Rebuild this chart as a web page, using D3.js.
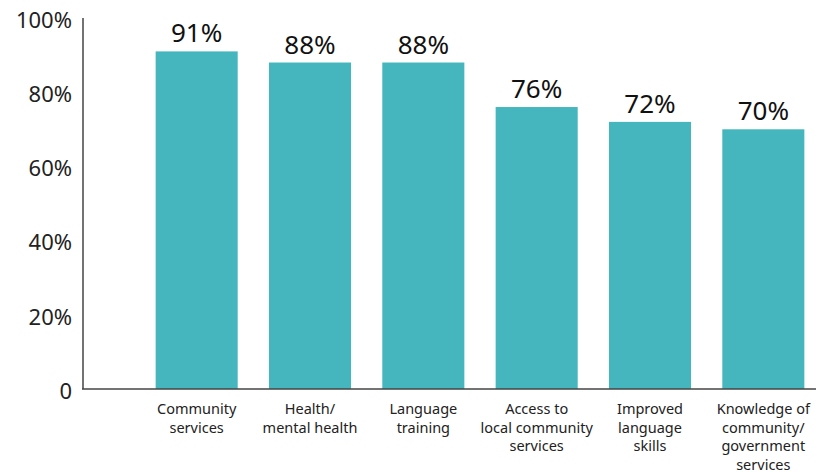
<!DOCTYPE html>
<html>
<head>
<meta charset="utf-8">
<script src="https://cdn.jsdelivr.net/npm/d3@7"></script>
<style>
    body { margin: 0; background: #fff; }
    text { font-family: "Noto Sans", "Open Sans", sans-serif; }
</style>
</head>
<body>
<svg id="chart" width="819" height="472"></svg>
<script>
var categories = [
    ["Community", "services"],
    ["Health/", "mental health"],
    ["Language", "training"],
    ["Access to", "local community", "services"],
    ["Improved", "language", "skills"],
    ["Knowledge of", "community/", "government", "services"]
];
var values = [91, 88, 88, 76, 72, 70];
var yTicks = [0, 20, 40, 60, 80, 100];

var svg = d3.select("#chart");

var x = d3.scaleBand()
    .domain(d3.range(categories.length))
    .range([140, 820])
    .paddingInner(0.276)
    .paddingOuter(0.138);

var y = d3.scaleLinear()
    .domain([0, 100])
    .range([389, 18]);

// bars
svg.selectAll("rect.bar").data(values)
    .enter().append("rect")
    .attr("class", "bar")
    .attr("x", function (d, i) { return x(i); })
    .attr("y", function (d) { return y(d); })
    .attr("width", x.bandwidth())
    .attr("height", function (d) { return y(0) - y(d); })
    .attr("fill", "#45b6bd");

// value labels
svg.selectAll("text.val").data(values)
    .enter().append("text")
    .attr("class", "val")
    .attr("x", function (d, i) { return x(i) + x.bandwidth() / 2; })
    .attr("y", function (d) { return y(d) - 9; })
    .attr("text-anchor", "middle")
    .attr("font-size", 26)
    .attr("fill", "#111")
    .text(function (d) { return d + "%"; });

// axes lines
svg.append("line")
    .attr("x1", 83).attr("x2", 83)
    .attr("y1", y(100)).attr("y2", y(0))
    .attr("stroke", "#444").attr("stroke-width", 1.5);
svg.append("line")
    .attr("x1", 82).attr("x2", 816)
    .attr("y1", y(0)).attr("y2", y(0))
    .attr("stroke", "#444").attr("stroke-width", 1.5);

// y tick labels
svg.selectAll("text.ytick").data(yTicks)
    .enter().append("text")
    .attr("class", "ytick")
    .attr("x", 72)
    .attr("y", function (d) { return y(d) + 4; })
    .attr("dominant-baseline", "middle")
    .attr("text-anchor", "end")
    .attr("font-size", 22)
    .attr("fill", "#222")
    .text(function (d) { return d === 0 ? "0" : d + "%"; });

// x category labels
var xl = svg.selectAll("text.xlab").data(categories)
    .enter().append("text")
    .attr("class", "xlab")
    .attr("text-anchor", "middle")
    .attr("font-size", 14.5)
    .attr("fill", "#222");
xl.selectAll("tspan").data(function (d, i) { return d.map(function (s) { return { s: s, i: i }; }); })
    .enter().append("tspan")
    .attr("x", function (d) { return x(d.i) + x.bandwidth() / 2; })
    .attr("y", function (d, j) { return 414 + j * 18.5; })
    .text(function (d) { return d.s; });
</script>
</body>
</html>
